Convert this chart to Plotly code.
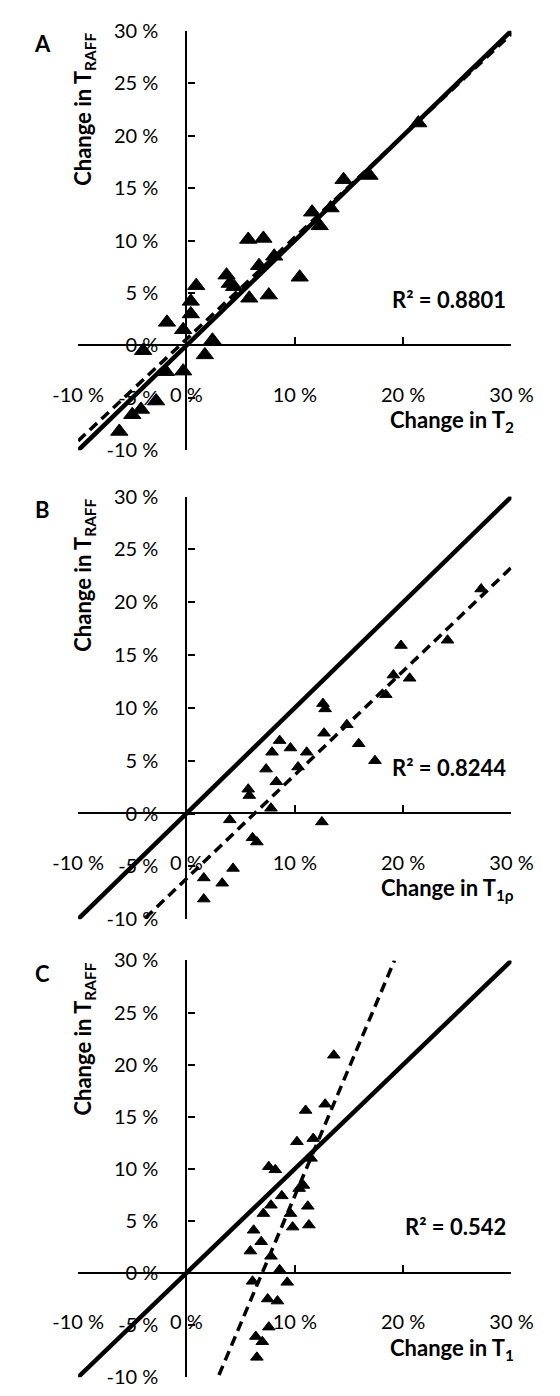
import plotly.graph_objects as go

W, H = 560, 1396

# ---------------- data ----------------
a_x = [-6.2, -5.0, -4.2, -2.8, -4.0, -1.9, -0.3, -1.8, -0.3, 0.4, 0.4, 0.9, 1.7, 2.4, 3.7,
       4.0, 4.4, 5.7, 7.1, 5.8, 6.7, 7.6, 8.1, 10.45, 11.6, 12.3, 13.3, 14.5, 16.9, 21.4]
a_y = [-8.2, -6.6, -6.1, -5.3, -0.5, -2.5, -2.45, 2.2, 1.5, 3.0, 4.2, 5.7, -0.9, 0.5, 6.7,
       5.9, 5.6, 10.1, 10.2, 4.5, 7.6, 4.8, 8.5, 6.5, 12.7, 11.4, 13.1, 15.8, 16.2, 21.2]

b_x = [1.6, 1.6, 3.3, 4.3, 4.0, 5.7, 5.8, 6.1, 6.5, 7.8, 7.35, 7.9, 8.3, 8.6, 9.6,
       10.3, 11.1, 12.5, 12.7, 12.6, 12.8, 14.8, 15.9, 17.4, 18.4, 19.1, 19.8, 20.6, 24.1, 27.2]
b_y = [-6.1, -8.1, -6.6, -5.2, -0.6, 2.3, 1.7, -2.3, -2.7, 0.5, 4.2, 5.8, 3.0, 6.9, 6.2,
       4.4, 5.8, -0.8, 7.6, 10.4, 9.9, 8.4, 6.6, 5.0, 11.25, 13.1, 15.9, 12.8, 16.4, 21.25]

c_x = [13.6, 12.8, 11.0, 10.2, 11.7, 11.5, 7.6, 8.2, 10.8, 10.4, 8.8, 7.8, 7.1, 9.6, 11.2,
       11.3, 9.8, 6.2, 6.9, 5.9, 7.8, 8.6, 6.1, 9.3, 7.5, 8.4, 7.6, 6.4, 7.0, 6.5]
c_y = [20.9, 16.2, 15.6, 12.6, 12.9, 11.0, 10.2, 9.9, 8.4, 8.1, 7.4, 6.5, 5.7, 5.7, 6.4,
       4.6, 4.4, 4.1, 3.0, 2.1, 1.6, 0.3, -0.8, -0.9, -2.5, -2.7, -5.2, -6.1, -6.6, -8.1]

identity_x = [-10, 30]
identity_y = [-10, 30]

trend_a_x = [-10, 30]
trend_a_y = [-9.1, 29.7]
trend_b_x = [-3.8, 30]
trend_b_y = [-9.9, 23.3]
trend_c_x = [3.0, 19.2]
trend_c_y = [-9.8, 30]

r2_labels = ["R² = 0.8801", "R² = 0.8244", "R² = 0.542"]
panel_letters = ["A", "B", "C"]
x_titles = ["Change in T<sub>2</sub>", "Change in T<sub>1ρ</sub>", "Change in T<sub>1</sub>"]
y_title = "Change in T<sub>RAFF</sub>"

x_tickvals = [-10, 0, 10, 20, 30]
x_ticktext = ["-10 %", "0 %", "10 %", "20 %", "30 %"]
y_tickvals = [-10, -5, 0, 5, 10, 15, 20, 25, 30]
y_ticktext = ["-10 %", "-5 %", "0 %", "5 %", "10 %", "15 %", "20 %", "25 %", "30 %"]

# ---------------- layout geometry (pixels) ----------------
PX_L, PX_R = 57, 531
panels_px = [(18, 445), (492, 922), (964, 1388)]   # (top, bottom) of each plot area
marker_sizes = [15, 11, 11]


def fx(px):
    return px / W


def fy(py):
    return 1 - py / H


FONT = "Lato"
fig = go.Figure()

xdom = [fx(PX_L), fx(PX_R)]
series = [(a_x, a_y, trend_a_x, trend_a_y), (b_x, b_y, trend_b_x, trend_b_y),
          (c_x, c_y, trend_c_x, trend_c_y)]

annotations = []
for i, ((top, bot), (sx, sy, tx, ty)) in enumerate(zip(panels_px, series)):
    n = "" if i == 0 else str(i + 1)
    xa, ya = "x" + n, "y" + n
    ydom = [fy(bot), fy(top)]
    fig.add_trace(go.Scatter(x=sx, y=sy, mode="markers", xaxis=xa, yaxis=ya,
                             marker=dict(symbol="triangle-up", size=marker_sizes[i], color="black",
                                         line=dict(color="black", width=1)),
                             showlegend=False, hoverinfo="skip"))
    fig.add_trace(go.Scatter(x=identity_x, y=identity_y, mode="lines", xaxis=xa, yaxis=ya,
                             line=dict(color="black", width=4.5), showlegend=False, hoverinfo="skip"))
    fig.add_trace(go.Scatter(x=tx, y=ty, mode="lines", xaxis=xa, yaxis=ya,
                             line=dict(color="black", width=3.5, dash="10px,6px"),
                             showlegend=False, hoverinfo="skip"))

    xpos = ydom[0] + 0.25 * (ydom[1] - ydom[0])
    ypos = xdom[0] + 0.25 * (xdom[1] - xdom[0])
    common = dict(range=[-10, 30], showgrid=False, zeroline=False, showline=True,
                  linecolor="black", linewidth=2.25, ticks="inside", ticklen=7, tickwidth=2,
                  tickcolor="black", tickfont=dict(family=FONT, size=20, color="black"),
                  anchor="free", fixedrange=True)
    fig.update_layout(**{
        "xaxis" + n: dict(domain=xdom, position=xpos, tickvals=x_tickvals, ticktext=x_ticktext,
                          ticklabelstandoff=31, **common),
        "yaxis" + n: dict(domain=ydom, position=ypos, tickvals=y_tickvals, ticktext=y_ticktext,
                          ticklabelstandoff=23, **common),
    })

    bold = dict(family=FONT, size=22, color="black")
    annotations.append(dict(text="<b>" + panel_letters[i] + "</b>", x=fx(18), y=fy(top + 13),
                            xref="paper", yref="paper", showarrow=False,
                            xanchor="center", yanchor="middle",
                            font=dict(family=FONT, size=22, color="black")))
    annotations.append(dict(text="<b>" + y_title + "</b>", x=fx(64), y=fy(top + 80),
                            xref="paper", yref="paper", showarrow=False, textangle=-90,
                            xanchor="center", yanchor="middle", font=bold))
    zero_px = top + (bot - top) * 0.75
    annotations.append(dict(text="<b>" + x_titles[i] + "</b>", x=fx(536), y=fy(zero_px + 77),
                            xref="paper", yref="paper", showarrow=False,
                            xanchor="right", yanchor="middle", font=bold))
    annotations.append(dict(text="<b>" + r2_labels[i] + "</b>", x=fx(527), y=fy(zero_px - 47),
                            xref="paper", yref="paper", showarrow=False,
                            xanchor="right", yanchor="middle", font=bold))

fig.update_layout(width=W, height=H, autosize=False, margin=dict(l=0, r=0, t=0, b=0),
                  paper_bgcolor="white", plot_bgcolor="white", annotations=annotations,
                  font=dict(family=FONT, color="black"))

fig.write_html("out.html")
